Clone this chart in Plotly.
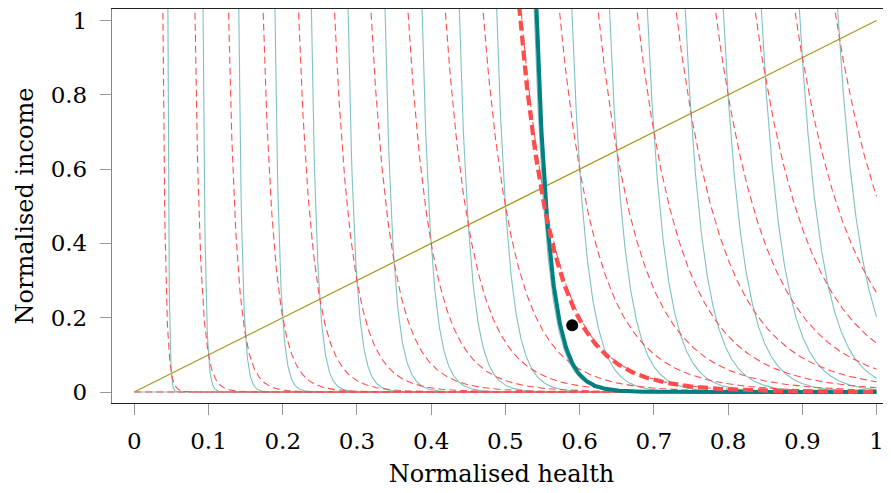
import numpy as np
import plotly.graph_objects as go

# ---- data ----
levels = [0.0, 0.05, 0.10, 0.15, 0.20, 0.25, 0.30, 0.35, 0.40, 0.45,
          0.50, 0.55, 0.60, 0.65, 0.70, 0.75, 0.80, 0.85, 0.90, 0.95]
teal_weight = 0.968      # health weight of solid (teal) indifference curves
red_weight = 0.92        # health weight of dashed (red) indifference curves
teal_highlight = 0.553   # level of bold teal curve (diagonal crossing)
red_highlight = 0.548    # level of bold red curve (diagonal crossing)
point_health = [0.59]
point_income = [0.18]
diag_health = [0, 1]
diag_income = [0, 1]
x_ticks = [0, 0.1, 0.2, 0.3, 0.4, 0.5, 0.6, 0.7, 0.8, 0.9, 1]
x_ticktext = ["0", "0.1", "0.2", "0.3", "0.4", "0.5", "0.6", "0.7", "0.8", "0.9", "1"]
y_ticks = [0, 0.2, 0.4, 0.6, 0.8, 1]
y_ticktext = ["0", "0.2", "0.4", "0.6", "0.8", "1"]

YTOP = 1.08


def curve(level, a, n=500):
    """Indifference curve h^a * y^(1-a) = level, y as function of h."""
    if level <= 0:
        h = np.array([0.0, 1.0])
        return h, np.zeros(2)
    k = 1.0 / (1.0 - a)
    h_top = np.exp((k * np.log(level) - np.log(YTOP)) / (k - 1.0))
    h = h_top * (1.0 / h_top) ** np.linspace(0, 1, n)
    y = level ** k * h ** (-(k - 1.0))
    return h, y


TEAL_THIN = "#80c0c0"
TEAL = "#008080"
RED = "#ff4d4d"
OLIVE = "#9e9a16"

fig = go.Figure()

fig.add_trace(go.Scatter(x=diag_health, y=diag_income, mode="lines",
                         line=dict(color=OLIVE, width=1.2), hoverinfo="skip"))

for lv in levels:
    h, y = curve(lv, teal_weight)
    fig.add_trace(go.Scatter(x=h, y=y, mode="lines",
                             line=dict(color=TEAL_THIN, width=1.1), hoverinfo="skip"))
for lv in levels:
    h, y = curve(lv, red_weight)
    fig.add_trace(go.Scatter(x=h, y=y, mode="lines",
                             line=dict(color=RED, width=1.1, dash="7px,4px"), hoverinfo="skip"))

h, y = curve(teal_highlight, teal_weight)
fig.add_trace(go.Scatter(x=h, y=y, mode="lines",
                         line=dict(color=TEAL, width=4), hoverinfo="skip"))
h, y = curve(red_highlight, red_weight)
fig.add_trace(go.Scatter(x=h, y=y, mode="lines",
                         line=dict(color=RED, width=4.2, dash="10px,5px"), hoverinfo="skip"))

fig.add_trace(go.Scatter(x=point_health, y=point_income, mode="markers",
                         marker=dict(color="black", size=12), hoverinfo="skip"))

FONT = "DejaVu Serif"

fig.update_layout(
    width=883, height=485,
    margin=dict(l=104, r=0, t=1, b=90),
    paper_bgcolor="white", plot_bgcolor="white",
    showlegend=False,
    font=dict(family=FONT, size=23, color="black"),
    xaxis=dict(
        range=[-0.0300, 1.0195], tickvals=x_ticks, ticktext=x_ticktext,
        showgrid=False, zeroline=False,
        showline=True, linecolor="#222222", linewidth=1.3, mirror=True,
        ticks="outside", ticklen=11, tickcolor="#999999", tickwidth=1.2,
        ticklabelstandoff=6, ticklabeloverflow="allow",
        tickfont=dict(family=FONT, size=23),
        title=dict(text="Normalised health", font=dict(family=FONT, size=24), standoff=12),
    ),
    yaxis=dict(
        range=[-0.0296, 1.031], tickvals=y_ticks, ticktext=y_ticktext,
        showgrid=False, zeroline=False,
        showline=True, linecolor="#888888", linewidth=1.3,
        ticks="outside", ticklen=11, tickcolor="#999999", tickwidth=1.2,
        ticklabelstandoff=8, ticklabeloverflow="allow",
        tickfont=dict(family=FONT, size=23),
        title=dict(text="Normalised income", font=dict(family=FONT, size=24), standoff=10),
    ),
)

fig.write_html("out.html")
